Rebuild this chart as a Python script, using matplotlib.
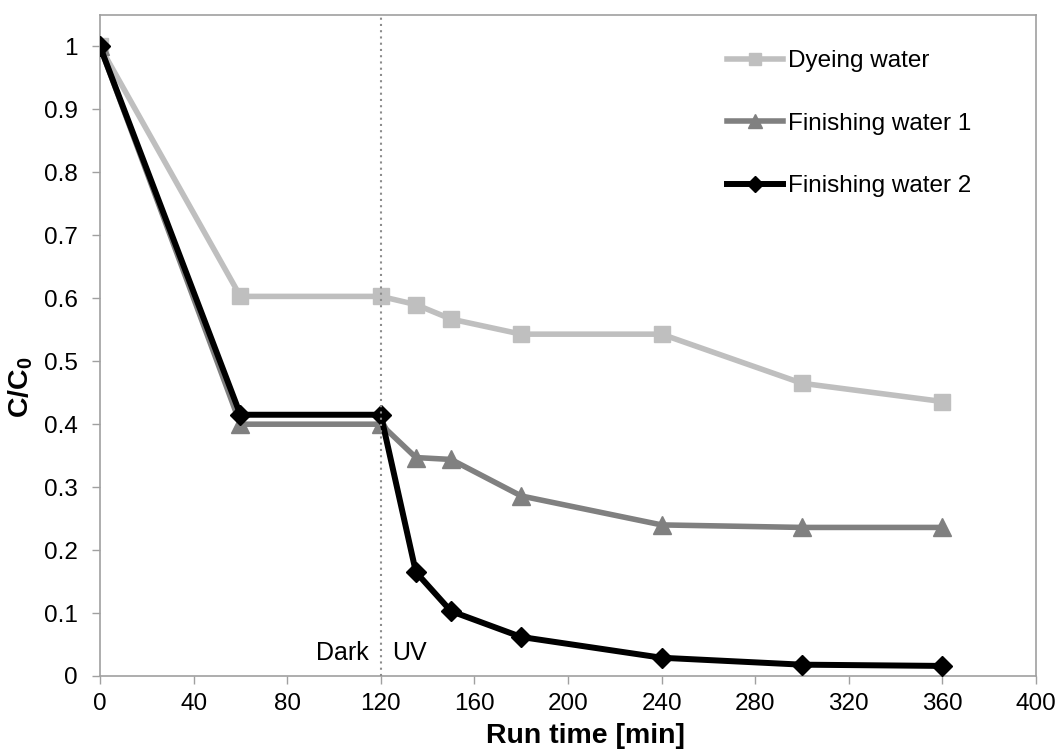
import matplotlib
matplotlib.use("Agg")
import matplotlib.pyplot as plt

plt.rcParams['font.family'] = ['Liberation Sans', 'DejaVu Sans']
plt.rcParams['mathtext.fontset'] = 'custom'
plt.rcParams['mathtext.rm'] = 'Liberation Sans'
plt.rcParams['mathtext.bf'] = 'Liberation Sans:bold'

time_min = [0, 60, 120, 135, 150, 180, 240, 300, 360]
dyeing = [1.0, 0.603, 0.603, 0.590, 0.567, 0.543, 0.543, 0.465, 0.436]
finishing1 = [1.0, 0.400, 0.400, 0.347, 0.344, 0.286, 0.240, 0.236, 0.236]
finishing2 = [1.0, 0.415, 0.415, 0.165, 0.103, 0.062, 0.029, 0.018, 0.016]

x_ticks = [0, 40, 80, 120, 160, 200, 240, 280, 320, 360, 400]
y_ticks = [0, 0.1, 0.2, 0.3, 0.4, 0.5, 0.6, 0.7, 0.8, 0.9, 1.0]
y_labels = ["0", "0.1", "0.2", "0.3", "0.4", "0.5", "0.6", "0.7", "0.8", "0.9", "1"]

fig = plt.figure(figsize=(10.59, 7.51), dpi=100)
ax = fig.add_axes([100/1059, 1-676/751, (1036-100)/1059, (676-15)/751])

ax.plot(time_min, dyeing, color='#BFBFBF', linewidth=4, marker='s', markersize=11.5,
        label='Dyeing water', zorder=3)
ax.plot(time_min, finishing1, color='#808080', linewidth=4, marker='^', markersize=13,
        label='Finishing water 1', zorder=4)
ax.plot(time_min, finishing2, color='#000000', linewidth=4.3, marker='D', markersize=10,
        label='Finishing water 2', zorder=5)

ax.axvline(120, color='#8C8C8C', linestyle=(0, (1, 2)), linewidth=1.5, zorder=6)

ax.set_xlim(0, 400)
ax.set_ylim(0, 1.05)
ax.set_xticks(x_ticks)
ax.set_yticks(y_ticks)
ax.set_yticklabels(y_labels)
ax.tick_params(axis='both', direction='out', length=6, width=1, color='#A0A0A0',
               labelsize=17.5)
ax.tick_params(axis='y', pad=10)
ax.tick_params(axis='x', pad=6)

for s in ax.spines.values():
    s.set_color('#A0A0A0')
    s.set_linewidth(1.2)

ax.text(115, 0.0365, 'Dark', ha='right', va='center', fontsize=18)
ax.text(125, 0.0365, 'UV', ha='left', va='center', fontsize=18)

ax.set_xlabel('Run time [min]', fontsize=20.5, fontweight='bold')
ax.xaxis.set_label_coords((585-100)/936, -(723-676)/661)
ax.set_ylabel('C/C$_\\mathbf{0}$', fontsize=20.5, fontweight='bold')
ax.yaxis.set_label_coords(-(100-35)/936, (676-387)/661)

leg = fig.legend(loc='upper left', bbox_to_anchor=(727/1059, 1-50/751), frameon=False,
                 fontsize=17.5, handlelength=2.3, handletextpad=0.2, labelspacing=1.67,
                 borderpad=0, borderaxespad=0, markerscale=0.8)

fig.savefig('out.png', dpi=100)
